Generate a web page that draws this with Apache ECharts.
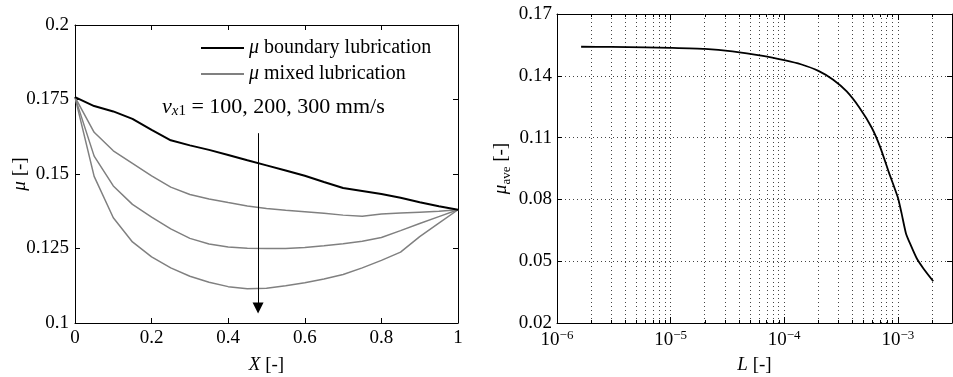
<!DOCTYPE html>
<html><head><meta charset="utf-8">
<script src="https://cdn.jsdelivr.net/npm/echarts@6/dist/echarts.min.js"></script>
<style>html,body{margin:0;padding:0;background:#fff}#c{width:953px;height:377px}</style>
</head><body><div id="c"></div>
<script>
// ---------- Left panel data ----------
const xPos = [0, 0.05, 0.1, 0.15, 0.2, 0.25, 0.3, 0.35, 0.4, 0.45, 0.5, 0.55, 0.6, 0.65, 0.7, 0.75, 0.8, 0.85, 0.9, 0.95, 1];
const muBoundary = [0.1758, 0.1728, 0.1710, 0.1685, 0.1648, 0.1613, 0.1596, 0.1581, 0.1564, 0.1546, 0.1529, 0.1512, 0.1494, 0.1473, 0.1453, 0.1443, 0.1433, 0.1420, 0.1405, 0.1392, 0.1380];
const muMixed100 = [0.1758, 0.1640, 0.1578, 0.1536, 0.1494, 0.1456, 0.1431, 0.1416, 0.1404, 0.1393, 0.1384, 0.1378, 0.1373, 0.1368, 0.1362, 0.1358, 0.1366, 0.1369, 0.1372, 0.1375, 0.1380];
const muMixed200 = [0.1758, 0.1560, 0.1460, 0.1398, 0.1355, 0.1316, 0.1284, 0.1265, 0.1255, 0.1251, 0.1250, 0.1250, 0.1253, 0.1259, 0.1266, 0.1274, 0.1287, 0.1310, 0.1334, 0.1357, 0.1380];
const muMixed300 = [0.1758, 0.1492, 0.1353, 0.1272, 0.1222, 0.1185, 0.1157, 0.1137, 0.1122, 0.1115, 0.1117, 0.1125, 0.1135, 0.1148, 0.1163, 0.1185, 0.1210, 0.1238, 0.1290, 0.1335, 0.1380];
const seriesNames = ['μ boundary lubrication', 'μ mixed lubrication'];
const annotationText = ['v', 'x', '1', ' = 100, 200, 300 mm/s'];
const arrowX = [0.478];
const arrowY = [0.1637, 0.1050];

// ---------- Right panel data ----------
const lValues = [1.63e-6, 3e-6, 6e-6, 1e-5, 2e-5, 3.5e-5, 6.5e-5, 1e-4, 1.4e-4, 2e-4, 2.7e-4, 3.55e-4, 4.6e-4, 5.9e-4, 7e-4, 8.3e-4, 1e-3, 1.08e-3, 1.18e-3, 1.3e-3, 1.47e-3, 1.68e-3, 2.05e-3];
const muAve = [0.1541, 0.1540, 0.1538, 0.1536, 0.1531, 0.1519, 0.1497, 0.1476, 0.1456, 0.1424, 0.1381, 0.1324, 0.1245, 0.1148, 0.1054, 0.0935, 0.0810, 0.0732, 0.0635, 0.0578, 0.0513, 0.0465, 0.0403];
const decades = [-6, -5, -4, -3];
const minorMultipliers = [2, 3, 4, 5, 6, 7, 8, 9];

const FONT = "'Liberation Serif','Times New Roman',serif";
const LX = {min: 0, max: 1, interval: 0.2};
const LY = {min: 0.1, max: 0.2, interval: 0.025};
const RX = {min: 1e-6, max: 3e-3};
const RY = {min: 0.02, max: 0.17, interval: 0.03};

// minor log-grid positions (2..9 × 10^k), expressed as log10 on a helper value axis
const minorLog = [];
decades.forEach(d => minorMultipliers.forEach(m => { const v = m * Math.pow(10, d); if (v < RX.max) minorLog.push(Math.log10(v)); }));

const zip = (xs, ys) => xs.map((x, i) => [x, ys[i]]);
const dotted = {color: '#444', width: 1, type: [1, 3]};
const tickLen = 5;
const tickStep = (RY.max - RY.min) / 309 * 3;

function axisBase(extra) {
  return Object.assign({
    nameMoveOverlap: false,
    axisLine: {show: true, onZero: false, lineStyle: {color: '#000', width: 1}},
    axisTick: {show: true, inside: true, length: tickLen, lineStyle: {color: '#000'}},
    axisLabel: {show: true, color: '#000', fontFamily: FONT, fontSize: 19, margin: 6},
    splitLine: {show: false},
    nameTextStyle: {color: '#000', fontFamily: FONT, fontSize: 19, lineHeight: 24,
      rich: {i: {fontStyle: 'italic', fontFamily: FONT, fontSize: 19, color: '#000'},
             r: {fontFamily: FONT, fontSize: 19, color: '#000'},
             sub: {fontFamily: FONT, fontSize: 13, verticalAlign: 'bottom', lineHeight: 14, color: '#000'}}}
  }, extra);
}
const hidden = {axisLabel: {show: false}};

const option = {
  animation: false,
  backgroundColor: '#fff',
  textStyle: {fontFamily: FONT, color: '#000'},
  grid: [
    {left: 75, top: 25, width: 383, height: 298, outerBoundsMode: 'none', containLabel: false},
    {left: 557, top: 14, width: 395, height: 309, outerBoundsMode: 'none', containLabel: false}
  ],
  legend: {
    data: seriesNames, orient: 'vertical', left: 201, top: 38, padding: 0,
    icon: 'rect', itemWidth: 43, itemHeight: 2, itemGap: 6,
    textStyle: {fontFamily: FONT, fontSize: 20, color: '#000',
      rich: {i: {fontStyle: 'italic', fontFamily: FONT, fontSize: 20, color: '#000'},
             r: {fontFamily: FONT, fontSize: 20, color: '#000'}}},
    formatter: n => '{i|μ}{r|' + n.replace('μ', '') + '}'
  },
  graphic: [{
    type: 'text', x: 162, y: 107,
    style: {
      text: '{v|' + annotationText[0] + '}{sx|' + annotationText[1] + '}{s1|' + annotationText[2] + '}{t|' + annotationText[3] + '}',
      verticalAlign: 'middle', fill: '#000',
      rich: {
        v: {fontFamily: FONT, fontStyle: 'italic', fontSize: 22, lineHeight: 24, verticalAlign: 'middle'},
        sx: {fontFamily: FONT, fontStyle: 'italic', fontSize: 15, lineHeight: 14, verticalAlign: 'bottom'},
        s1: {fontFamily: FONT, fontSize: 15, lineHeight: 14, verticalAlign: 'bottom'},
        t: {fontFamily: FONT, fontSize: 22, lineHeight: 24, verticalAlign: 'middle'}
      }
    }
  }],
  xAxis: [
    axisBase({gridIndex: 0, type: 'value', position: 'bottom', min: LX.min, max: LX.max, interval: LX.interval,
      name: '{i|X}{r| [-]}', nameLocation: 'middle', nameGap: 30}),
    axisBase(Object.assign({gridIndex: 0, type: 'value', position: 'top', min: LX.min, max: LX.max, interval: LX.interval}, hidden)),
    axisBase({gridIndex: 1, type: 'log', logBase: 10, position: 'bottom', min: RX.min, max: RX.max,
      name: '{i|L}{r| [-]}', nameLocation: 'middle', nameGap: 30,
      axisTick: {show: true, inside: true, length: 6, lineStyle: {color: '#000'}},
      splitLine: {show: true, lineStyle: dotted},
      axisLabel: {show: true, color: '#000', fontFamily: FONT, fontSize: 19, lineHeight: 22, margin: 6,
        formatter: v => { const e = Math.log10(v), r = Math.round(e); if (Math.abs(e - r) > 1e-6) return ''; return '{b|10}{sup|' + (r < 0 ? '−' : '') + Math.abs(r) + '}'; },
        rich: {b: {fontFamily: FONT, fontSize: 19, lineHeight: 22, color: '#000'},
               sup: {fontFamily: FONT, fontSize: 13, lineHeight: 14, verticalAlign: 'top', color: '#000'}}}}),
    axisBase(Object.assign({gridIndex: 1, type: 'log', logBase: 10, position: 'top', min: RX.min, max: RX.max,
      axisTick: {show: true, inside: true, length: 6, lineStyle: {color: '#000'}}}, hidden)),
    {gridIndex: 1, type: 'value', min: Math.log10(RX.min), max: Math.log10(RX.max), show: false}
  ],
  yAxis: [
    axisBase({gridIndex: 0, type: 'value', position: 'left', min: LY.min, max: LY.max, interval: LY.interval,
      name: '{i|μ}{r| [-]}', nameLocation: 'middle', nameGap: 43, nameRotate: 90}),
    axisBase(Object.assign({gridIndex: 0, type: 'value', position: 'right', min: LY.min, max: LY.max, interval: LY.interval}, hidden)),
    axisBase({gridIndex: 1, type: 'value', position: 'left', min: RY.min, max: RY.max, interval: RY.interval,
      axisLabel: {show: true, color: '#000', fontFamily: FONT, fontSize: 19, margin: 5},
      splitLine: {show: true, lineStyle: dotted},
      name: '{i|μ}{sub|ave}{r| [-]}', nameLocation: 'middle', nameGap: 44, nameRotate: 90}),
    axisBase(Object.assign({gridIndex: 1, type: 'value', position: 'right', min: RY.min, max: RY.max, interval: RY.interval}, hidden))
  ],
  series: [
    {name: seriesNames[0], type: 'line', xAxisIndex: 0, yAxisIndex: 0, data: zip(xPos, muBoundary),
      symbol: 'none', lineStyle: {color: '#000', width: 2}, itemStyle: {color: '#000'}, z: 5,
      markLine: {silent: true, animation: false, label: {show: false}, lineStyle: {color: '#000', width: 1, type: 'solid'},
        emphasis: {disabled: true},
        data: [[{coord: [arrowX[0], arrowY[0]], symbol: 'none'}, {coord: [arrowX[0], arrowY[1]], symbol: 'triangle', symbolSize: [11, 11]}]]}},
    {name: seriesNames[1], type: 'line', xAxisIndex: 0, yAxisIndex: 0, data: zip(xPos, muMixed100),
      symbol: 'none', lineStyle: {color: '#808080', width: 1.5}, itemStyle: {color: '#808080'}},
    {name: seriesNames[1], type: 'line', xAxisIndex: 0, yAxisIndex: 0, data: zip(xPos, muMixed200),
      symbol: 'none', lineStyle: {color: '#808080', width: 1.5}, itemStyle: {color: '#808080'}},
    {name: seriesNames[1], type: 'line', xAxisIndex: 0, yAxisIndex: 0, data: zip(xPos, muMixed300),
      symbol: 'none', lineStyle: {color: '#808080', width: 1.5}, itemStyle: {color: '#808080'}},
    {name: 'mu_ave', type: 'line', xAxisIndex: 2, yAxisIndex: 2, data: zip(lValues, muAve),
      symbol: 'none', smooth: 0.2, lineStyle: {color: '#000', width: 1.8}, itemStyle: {color: '#000'}, z: 5},
    {name: 'minorGrid', type: 'line', xAxisIndex: 4, yAxisIndex: 2, data: [], symbol: 'none', silent: true,
      markLine: {silent: true, animation: false, symbol: 'none', label: {show: false}, emphasis: {disabled: true},
        lineStyle: dotted,
        data: minorLog.map(v => ({xAxis: v}))
          .concat(minorLog.map(v => [{coord: [v, RY.min], lineStyle: {type: 'solid', color: '#000', width: 1}}, {coord: [v, RY.min + tickStep]}]))
          .concat(minorLog.map(v => [{coord: [v, RY.max], lineStyle: {type: 'solid', color: '#000', width: 1}}, {coord: [v, RY.max - tickStep]}]))}}
  ]
};
const chart = echarts.init(document.getElementById('c'), null, {renderer: 'canvas'});
chart.setOption(option);
</script></body></html>
